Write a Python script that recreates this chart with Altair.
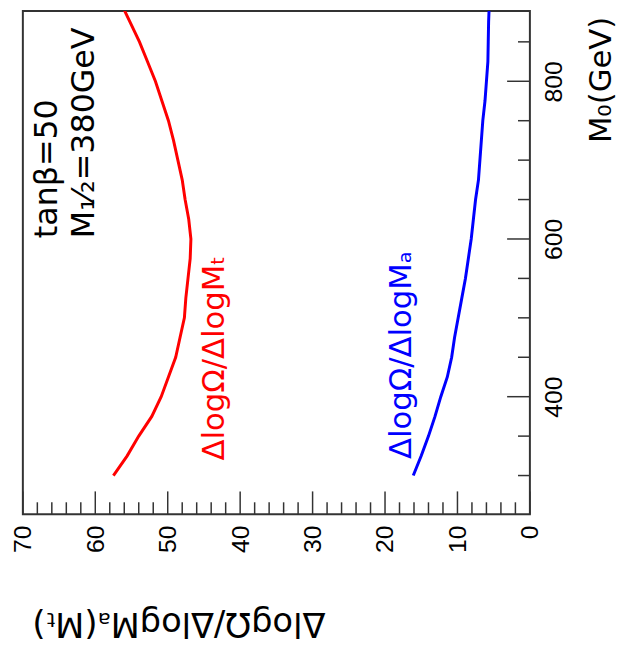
import altair as alt
import pandas as pd

# M0 (GeV) sample points
m0 = [300, 325, 350, 375, 400, 425, 450, 475, 500, 525, 550, 575, 600,
      625, 650, 675, 700, 725, 750, 775, 800, 825, 850, 875, 900]
# dlogOmega/dlogMt (red)
red_vals = [57.5, 55.6, 54.0, 52.2, 50.9, 49.9, 48.9, 48.3, 47.7, 47.5, 47.2, 46.9, 46.8,
            47.1, 47.6, 48.0, 48.6, 49.2, 49.9, 50.8, 51.7, 52.8, 53.9, 55.2, 56.5]
# dlogOmega/dlogMA (blue)
blue_vals = [16.1, 15.0, 14.0, 13.1, 12.3, 11.4, 10.8, 10.4, 9.9, 9.4, 8.9, 8.5, 8.1,
             7.8, 7.5, 7.1, 6.9, 6.7, 6.5, 6.2, 6.0, 5.8, 5.75, 5.7, 5.6]

series_names = ["ΔlogΩ/ΔlogMt", "ΔlogΩ/ΔlogMA"]
series_colors = ["#ff0000", "#0000ff"]

x_labels = [0, 10, 20, 30, 40, 50, 60, 70]
x_minor = [2, 4, 6, 8, 12, 14, 16, 18, 22, 24, 26, 28, 32, 34, 36, 38,
           42, 44, 46, 48, 52, 54, 56, 58, 62, 64, 66, 68]
y_labels = [400, 600, 800]
y_minor = [300, 350, 450, 500, 550, 650, 700, 750, 850]

W, H = 512, 508
FRAME = "#333333"

rows = []
for name, vals in zip(series_names, [red_vals, blue_vals]):
    for m, v in zip(m0, vals):
        rows.append({"series": name, "M0": m, "value": v})
df = pd.DataFrame(rows)

xscale = alt.Scale(domain=[0, 70], reverse=True, nice=False, zero=False)
yscale = alt.Scale(domain=[251, 889], nice=False, zero=False)

xaxis = alt.Axis(
    values=x_labels, orient="bottom", ticks=False, tickSize=0, domain=False, grid=False,
    labelAngle=270, labelAlign="right", labelBaseline="middle", labelPadding=11,
    labelFont="Liberation Sans", labelFontSize=25, labelColor="black",
    labelFlush=False, labelOverlap=False, format="d",
    title="ΔlogΩ/ΔlogMₐ(Mₜ)", titleFont="DejaVu Sans", titleFontSize=34,
    titleFontWeight="normal", titleColor="black", titleAngle=180,
    titleX=157, titleY=109, titleAlign="center", titleBaseline="middle",
)
yaxis = alt.Axis(
    values=y_labels, orient="right", ticks=False, tickSize=0, domain=False, grid=False,
    labelAngle=270, labelAlign="center", labelBaseline="top", labelPadding=12,
    labelFont="Liberation Sans", labelFontSize=25, labelColor="black",
    labelFlush=False, labelOverlap=False, format="d",
    title="M₀(GeV)", titleFont="DejaVu Sans", titleFontSize=31,
    titleFontWeight="normal", titleColor="black", titleAngle=270,
    titleX=72, titleY=69, titleAlign="center", titleBaseline="middle",
)

lines = alt.Chart(df).mark_line(strokeWidth=3, clip=True).encode(
    x=alt.X("value:Q", scale=xscale, axis=xaxis),
    y=alt.Y("M0:Q", scale=yscale, axis=yaxis),
    color=alt.Color("series:N", scale=alt.Scale(domain=series_names, range=series_colors), legend=None),
    order="M0:Q",
)

def xticks(vals, length):
    return alt.Chart(pd.DataFrame({"value": vals})).mark_rule(color=FRAME, strokeWidth=1.5).encode(
        x=alt.X("value:Q", scale=xscale, axis=xaxis),
        y=alt.value(H), y2=alt.value(H - length),
    )

def yticks(vals, length):
    return alt.Chart(pd.DataFrame({"M0": vals})).mark_rule(color=FRAME, strokeWidth=1.5).encode(
        y=alt.Y("M0:Q", scale=yscale, axis=yaxis),
        x=alt.value(W), x2=alt.value(W - length),
    )

one = pd.DataFrame({"k": [0]})

def note(text, xv, yv, color, size):
    return alt.Chart(one).mark_text(
        text=text, angle=270, align="left", baseline="middle",
        font="DejaVu Sans", fontSize=size, color=color,
    ).encode(
        x=alt.X(datum=xv, scale=xscale, axis=xaxis),
        y=alt.Y(datum=yv, scale=yscale, axis=yaxis),
    )

chart = alt.layer(
    lines,
    xticks(x_labels, 23), xticks(x_minor, 12),
    yticks(y_labels, 23), yticks(y_minor, 12),
    note("tanβ=50", 66.6, 601, "black", 32),
    note("M₁⁄₂=380GeV", 61.6, 601, "black", 32),
    note("ΔlogΩ/ΔlogMₜ", 43.5, 319, "#ff0000", 31),
    note("ΔlogΩ/ΔlogMₐ", 17.6, 321, "#0000ff", 31),
).properties(
    width=W, height=H,
    autosize=alt.AutoSizeParams(type="none"),
    padding={"left": 15, "top": 0, "right": 92, "bottom": 132},
).configure_view(stroke=FRAME, strokeWidth=2)

chart.save("out.html", embed_options={"renderer": "svg", "actions": False})
